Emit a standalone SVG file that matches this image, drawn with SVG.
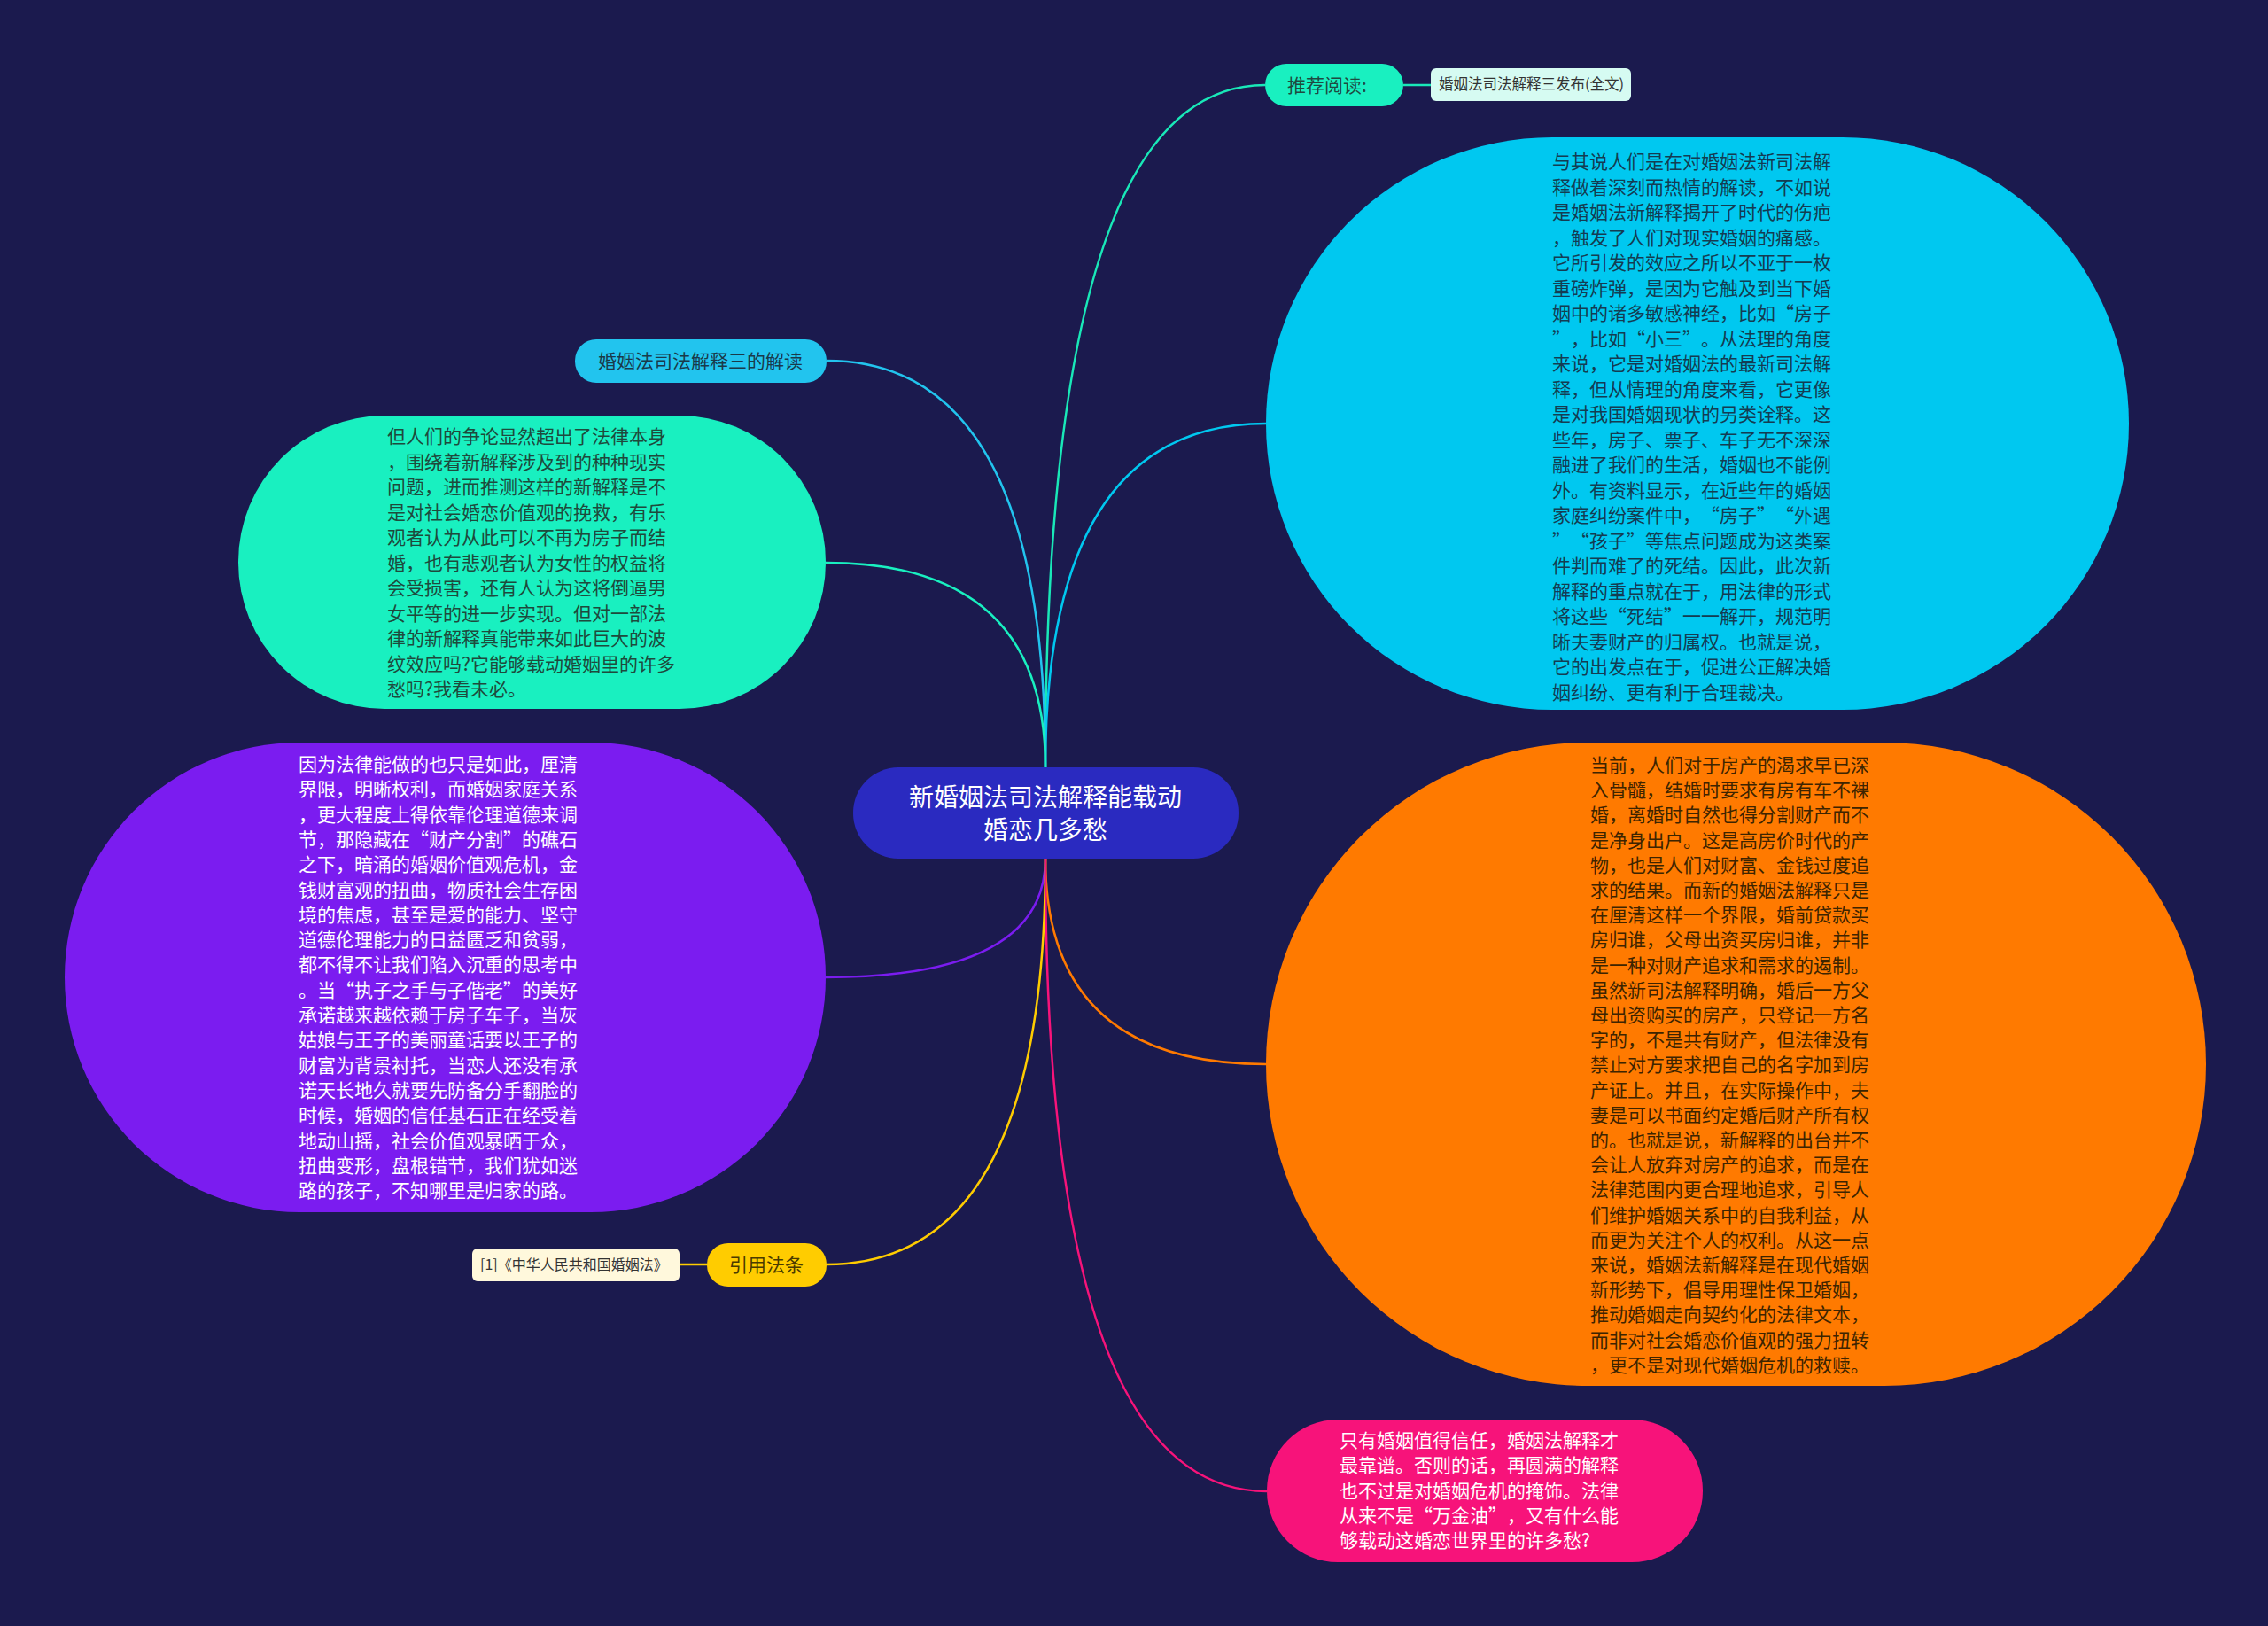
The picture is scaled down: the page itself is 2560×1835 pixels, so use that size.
<svg xmlns="http://www.w3.org/2000/svg" width="2560" height="1835" viewBox="0 0 2560 1835">
<style>
text { font-family: "Noto Sans CJK SC", "Noto Sans", sans-serif; text-spacing-trim: space-all; }
.body { font-size: 21px; }
.lbl { font-size: 21px; }
.small { font-size: 16px; fill: #333333; }
.conn path { fill: none; stroke-width: 2.5; }
</style>
<rect x="0" y="0" width="2560" height="1835" fill="#1b1a4e"/>
<g id="connectors" class="conn">
<path d="M1180,866 Q1180,96 1428,96" stroke="#19e8b8"/>
<path d="M1584,96 L1615,96" stroke="#19e8b8"/>
<path d="M1180,866 Q1180,478 1429,478" stroke="#00c8f0"/>
<path d="M1180,866 Q1180,407 933,407" stroke="#22c4ee"/>
<path d="M1180,866 Q1180,635 932,635" stroke="#19f0c0"/>
<path d="M1180,969 Q1180,1103 932,1103" stroke="#7b1cf0"/>
<path d="M1180,969 Q1180,1427 933,1427" stroke="#ffcc00"/>
<path d="M767,1427 L798,1427" stroke="#ffcc00"/>
<path d="M1180,969 Q1180,1201 1429,1201" stroke="#ff7a00"/>
<path d="M1180,969 Q1180,1683 1430,1683" stroke="#f7137a"/>
</g>
<g id="center">
<rect x="963" y="866" width="435" height="103" rx="51" fill="#2a2ac0"/>
<text x="1180" y="910" font-size="28" fill="#ffffff" text-anchor="middle">新婚姻法司法解释能载动</text>
<text x="1180" y="947" font-size="28" fill="#ffffff" text-anchor="middle">婚恋几多愁</text>
</g>
<g id="recommend">
<rect x="1428" y="72" width="156" height="48" rx="24" fill="#19f0c0"/>
<text x="1453" y="104" class="lbl" fill="#1f4a40">推荐阅读:</text>
</g>
<g id="recommend-link">
<rect x="1615" y="77" width="226" height="37" rx="6" fill="#d6fbf2"/>
<text x="1624" y="101" font-size="16.5" fill="#333333">婚姻法司法解释三发布(全文)</text>
</g>
<g id="blue-node">
<rect x="1429" y="155" width="974" height="646" rx="323" fill="#00c8f0"/>
<text class="body" fill="#143c52">
<tspan x="1752" y="190">与其说人们是在对婚姻法新司法解</tspan>
<tspan x="1752" y="218.5">释做着深刻而热情的解读，不如说</tspan>
<tspan x="1752" y="247">是婚姻法新解释揭开了时代的伤疤</tspan>
<tspan x="1752" y="275.5">，触发了人们对现实婚姻的痛感。</tspan>
<tspan x="1752" y="304">它所引发的效应之所以不亚于一枚</tspan>
<tspan x="1752" y="332.5">重磅炸弹，是因为它触及到当下婚</tspan>
<tspan x="1752" y="361">姻中的诸多敏感神经，比如“房子</tspan>
<tspan x="1752" y="389.5">”，比如“小三”。从法理的角度</tspan>
<tspan x="1752" y="418">来说，它是对婚姻法的最新司法解</tspan>
<tspan x="1752" y="446.5">释，但从情理的角度来看，它更像</tspan>
<tspan x="1752" y="475">是对我国婚姻现状的另类诠释。这</tspan>
<tspan x="1752" y="503.5">些年，房子、票子、车子无不深深</tspan>
<tspan x="1752" y="532">融进了我们的生活，婚姻也不能例</tspan>
<tspan x="1752" y="560.5">外。有资料显示，在近些年的婚姻</tspan>
<tspan x="1752" y="589">家庭纠纷案件中，“房子”“外遇</tspan>
<tspan x="1752" y="617.5">”“孩子”等焦点问题成为这类案</tspan>
<tspan x="1752" y="646">件判而难了的死结。因此，此次新</tspan>
<tspan x="1752" y="674.5">解释的重点就在于，用法律的形式</tspan>
<tspan x="1752" y="703">将这些“死结”一一解开，规范明</tspan>
<tspan x="1752" y="731.5">晰夫妻财产的归属权。也就是说，</tspan>
<tspan x="1752" y="760">它的出发点在于，促进公正解决婚</tspan>
<tspan x="1752" y="788.5">姻纠纷、更有利于合理裁决。</tspan>
</text>
</g>
<g id="interpret">
<rect x="649" y="383" width="284" height="49" rx="24" fill="#22c4ee"/>
<text x="675" y="415" class="lbl" fill="#1a3a4a">婚姻法司法解释三的解读</text>
</g>
<g id="green-node">
<rect x="269" y="469" width="663" height="331" rx="165" fill="#19f0c0"/>
<text class="body" fill="#1e4a3c">
<tspan x="437" y="500">但人们的争论显然超出了法律本身</tspan>
<tspan x="437" y="528.5">，围绕着新解释涉及到的种种现实</tspan>
<tspan x="437" y="557">问题，进而推测这样的新解释是不</tspan>
<tspan x="437" y="585.5">是对社会婚恋价值观的挽救，有乐</tspan>
<tspan x="437" y="614">观者认为从此可以不再为房子而结</tspan>
<tspan x="437" y="642.5">婚，也有悲观者认为女性的权益将</tspan>
<tspan x="437" y="671">会受损害，还有人认为这将倒逼男</tspan>
<tspan x="437" y="699.5">女平等的进一步实现。但对一部法</tspan>
<tspan x="437" y="728">律的新解释真能带来如此巨大的波</tspan>
<tspan x="437" y="756.5">纹效应吗?它能够载动婚姻里的许多</tspan>
<tspan x="437" y="785">愁吗?我看未必。</tspan>
</text>
</g>
<g id="purple-node">
<rect x="73" y="838" width="859" height="530" rx="265" fill="#7b1cf0"/>
<text class="body" fill="#ffffff">
<tspan x="337" y="870">因为法律能做的也只是如此，厘清</tspan>
<tspan x="337" y="898.3">界限，明晰权利，而婚姻家庭关系</tspan>
<tspan x="337" y="926.6">，更大程度上得依靠伦理道德来调</tspan>
<tspan x="337" y="954.9">节，那隐藏在“财产分割”的礁石</tspan>
<tspan x="337" y="983.2">之下，暗涌的婚姻价值观危机，金</tspan>
<tspan x="337" y="1011.5">钱财富观的扭曲，物质社会生存困</tspan>
<tspan x="337" y="1039.8">境的焦虑，甚至是爱的能力、坚守</tspan>
<tspan x="337" y="1068.1">道德伦理能力的日益匮乏和贫弱，</tspan>
<tspan x="337" y="1096.4">都不得不让我们陷入沉重的思考中</tspan>
<tspan x="337" y="1124.7">。当“执子之手与子偕老”的美好</tspan>
<tspan x="337" y="1153">承诺越来越依赖于房子车子，当灰</tspan>
<tspan x="337" y="1181.3">姑娘与王子的美丽童话要以王子的</tspan>
<tspan x="337" y="1209.6">财富为背景衬托，当恋人还没有承</tspan>
<tspan x="337" y="1237.9">诺天长地久就要先防备分手翻脸的</tspan>
<tspan x="337" y="1266.2">时候，婚姻的信任基石正在经受着</tspan>
<tspan x="337" y="1294.5">地动山摇，社会价值观暴晒于众，</tspan>
<tspan x="337" y="1322.8">扭曲变形，盘根错节，我们犹如迷</tspan>
<tspan x="337" y="1351.1">路的孩子，不知哪里是归家的路。</tspan>
</text>
</g>
<g id="cite">
<rect x="798" y="1403" width="135" height="49" rx="24" fill="#ffcc00"/>
<text x="823" y="1435" class="lbl" fill="#4a3a00">引用法条</text>
</g>
<g id="cite-item">
<rect x="533" y="1409" width="234" height="37" rx="6" fill="#fff8dc"/>
<text x="542" y="1433" class="small">[1]《中华人民共和国婚姻法》</text>
</g>
<g id="orange-node">
<rect x="1429" y="838" width="1061" height="726" rx="363" fill="#ff7a00"/>
<text class="body" fill="#3d2400">
<tspan x="1795" y="871">当前，人们对于房产的渴求早已深</tspan>
<tspan x="1795" y="899.2">入骨髓，结婚时要求有房有车不裸</tspan>
<tspan x="1795" y="927.4">婚，离婚时自然也得分割财产而不</tspan>
<tspan x="1795" y="955.6">是净身出户。这是高房价时代的产</tspan>
<tspan x="1795" y="983.8">物，也是人们对财富、金钱过度追</tspan>
<tspan x="1795" y="1012">求的结果。而新的婚姻法解释只是</tspan>
<tspan x="1795" y="1040.2">在厘清这样一个界限，婚前贷款买</tspan>
<tspan x="1795" y="1068.4">房归谁，父母出资买房归谁，并非</tspan>
<tspan x="1795" y="1096.6">是一种对财产追求和需求的遏制。</tspan>
<tspan x="1795" y="1124.8">虽然新司法解释明确，婚后一方父</tspan>
<tspan x="1795" y="1153">母出资购买的房产，只登记一方名</tspan>
<tspan x="1795" y="1181.2">字的，不是共有财产，但法律没有</tspan>
<tspan x="1795" y="1209.4">禁止对方要求把自己的名字加到房</tspan>
<tspan x="1795" y="1237.6">产证上。并且，在实际操作中，夫</tspan>
<tspan x="1795" y="1265.8">妻是可以书面约定婚后财产所有权</tspan>
<tspan x="1795" y="1294">的。也就是说，新解释的出台并不</tspan>
<tspan x="1795" y="1322.2">会让人放弃对房产的追求，而是在</tspan>
<tspan x="1795" y="1350.4">法律范围内更合理地追求，引导人</tspan>
<tspan x="1795" y="1378.6">们维护婚姻关系中的自我利益，从</tspan>
<tspan x="1795" y="1406.8">而更为关注个人的权利。从这一点</tspan>
<tspan x="1795" y="1435">来说，婚姻法新解释是在现代婚姻</tspan>
<tspan x="1795" y="1463.2">新形势下，倡导用理性保卫婚姻，</tspan>
<tspan x="1795" y="1491.4">推动婚姻走向契约化的法律文本，</tspan>
<tspan x="1795" y="1519.6">而非对社会婚恋价值观的强力扭转</tspan>
<tspan x="1795" y="1547.8">，更不是对现代婚姻危机的救赎。</tspan>
</text>
</g>
<g id="pink-node">
<rect x="1430" y="1602" width="492" height="161" rx="80" fill="#f7137a"/>
<text class="body" fill="#ffffff">
<tspan x="1512" y="1633">只有婚姻值得信任，婚姻法解释才</tspan>
<tspan x="1512" y="1661.3">最靠谱。否则的话，再圆满的解释</tspan>
<tspan x="1512" y="1689.6">也不过是对婚姻危机的掩饰。法律</tspan>
<tspan x="1512" y="1717.9">从来不是“万金油”，又有什么能</tspan>
<tspan x="1512" y="1746.2">够载动这婚恋世界里的许多愁?</tspan>
</text>
</g>
</svg>
